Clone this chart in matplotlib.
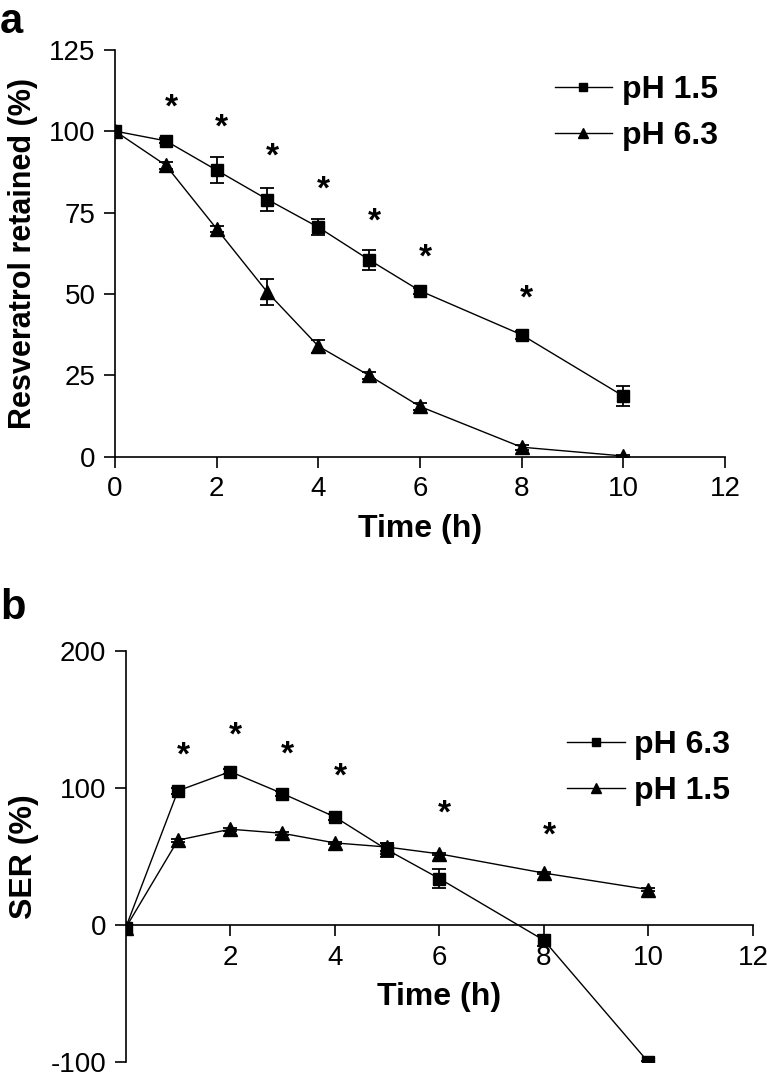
import matplotlib
matplotlib.use('Agg')
import matplotlib.pyplot as plt

plt.rcParams['font.family'] = ['Liberation Sans', 'DejaVu Sans']
plt.rcParams['axes.unicode_minus'] = False

# panel a: resveratrol retained
time_a = [0, 1, 2, 3, 4, 5, 6, 8, 10]
ret_ph15 = [100, 97, 88, 79, 70.5, 60.5, 51, 37.5, 18.7]
ret_ph15_err = [1, 0.8, 4, 3.5, 2.5, 3, 1, 1.2, 3]
ret_ph63 = [100, 89.5, 70, 50.5, 34, 25, 15.5, 3, 0.3]
ret_ph63_err = [1, 1, 1, 4, 2, 1, 1, 0.8, 0.3]
star_a_x = [1.1, 2.1, 3.1, 4.1, 5.1, 6.1, 8.1]
star_a_y = [107, 101, 92, 82, 72, 61, 48.5]

# panel b: SER
time_b = [0, 1, 2, 3, 4, 5, 6, 8, 10]
ser_ph63 = [-2, 98, 112, 96, 79, 55, 34, -11, -100]
ser_ph63_err = [2, 2, 2, 2, 2, 5, 7, 4, 1]
ser_ph15 = [-2, 62, 70, 67, 60, 57, 52, 38, 26]
ser_ph15_err = [1, 1, 1, 1, 1, 3, 1, 1, 1]
star_b_x = [1.1, 2.1, 3.1, 4.1, 6.1, 8.1]
star_b_y = [123, 138, 124, 108, 81, 65]

fig = plt.figure(figsize=(7.67, 10.79), dpi=100)
ax1 = fig.add_axes([0.150, 0.5765, 0.795, 0.3775])
ax2 = fig.add_axes([0.1638, 0.0155, 0.818, 0.3812])

kw = dict(color='black', lw=1, capsize=5, elinewidth=1.3, capthick=1.3)
leg_kw = dict(loc='center left', frameon=False, handlelength=1.8,
              handletextpad=0.3, labelspacing=0.5, borderpad=0, borderaxespad=0,
              markerscale=0.7, prop={'size': 23, 'weight': 'bold'})

e1 = ax1.errorbar(time_a, ret_ph15, yerr=ret_ph15_err, marker='s', ms=8, **kw)
e2 = ax1.errorbar(time_a, ret_ph63, yerr=ret_ph63_err, marker='^', ms=9.5, **kw)
for x, y in zip(star_a_x, star_a_y):
    ax1.text(x, y, '*', ha='center', va='center', fontsize=24, fontweight='bold')
ax1.set_xlim(0, 12)
ax1.set_ylim(0, 125)
ax1.set_xticks(range(0, 13, 2))
ax1.set_yticks(range(0, 126, 25))
ax1.set_xlabel('Time (h)', fontsize=23, fontweight='bold', labelpad=8)
ax1.set_ylabel('Resveratrol retained (%)', fontsize=22, fontweight='bold', labelpad=8)
ax1.legend([e1[0], e2[0]], ['pH 1.5', 'pH 6.3'], bbox_to_anchor=(0.721, 0.844), **leg_kw)

e3 = ax2.errorbar(time_b, ser_ph63, yerr=ser_ph63_err, marker='s', ms=8, **kw)
e4 = ax2.errorbar(time_b, ser_ph15, yerr=ser_ph15_err, marker='^', ms=9.5, **kw)
for x, y in zip(star_b_x, star_b_y):
    ax2.text(x, y, '*', ha='center', va='center', fontsize=24, fontweight='bold')
ax2.set_xlim(0, 12)
ax2.set_ylim(-100, 200)
ax2.set_xticks(range(2, 13, 2))
ax2.set_yticks([-100, 0, 100, 200])
ax2.spines['bottom'].set_position(('data', 0))
ax2.set_xlabel('Time (h)', fontsize=23, fontweight='bold', labelpad=8)
ax2.set_ylabel('SER (%)', fontsize=23, fontweight='bold', labelpad=8)
ax2.legend([e3[0], e4[0]], ['pH 6.3', 'pH 1.5'], bbox_to_anchor=(0.7035, 0.715), **leg_kw)

for ax in (ax1, ax2):
    ax.spines['top'].set_visible(False)
    ax.spines['right'].set_visible(False)
    ax.tick_params(direction='out', length=8, width=1.2, labelsize=20, pad=6)
    for s in ('left', 'bottom'):
        ax.spines[s].set_linewidth(1.2)

fig.text(0.0, 0.998, 'a', fontsize=30, fontweight='bold', va='top')
fig.text(0.0, 0.455, 'b', fontsize=30, fontweight='bold', va='top')

fig.savefig('out.png', dpi=100)
